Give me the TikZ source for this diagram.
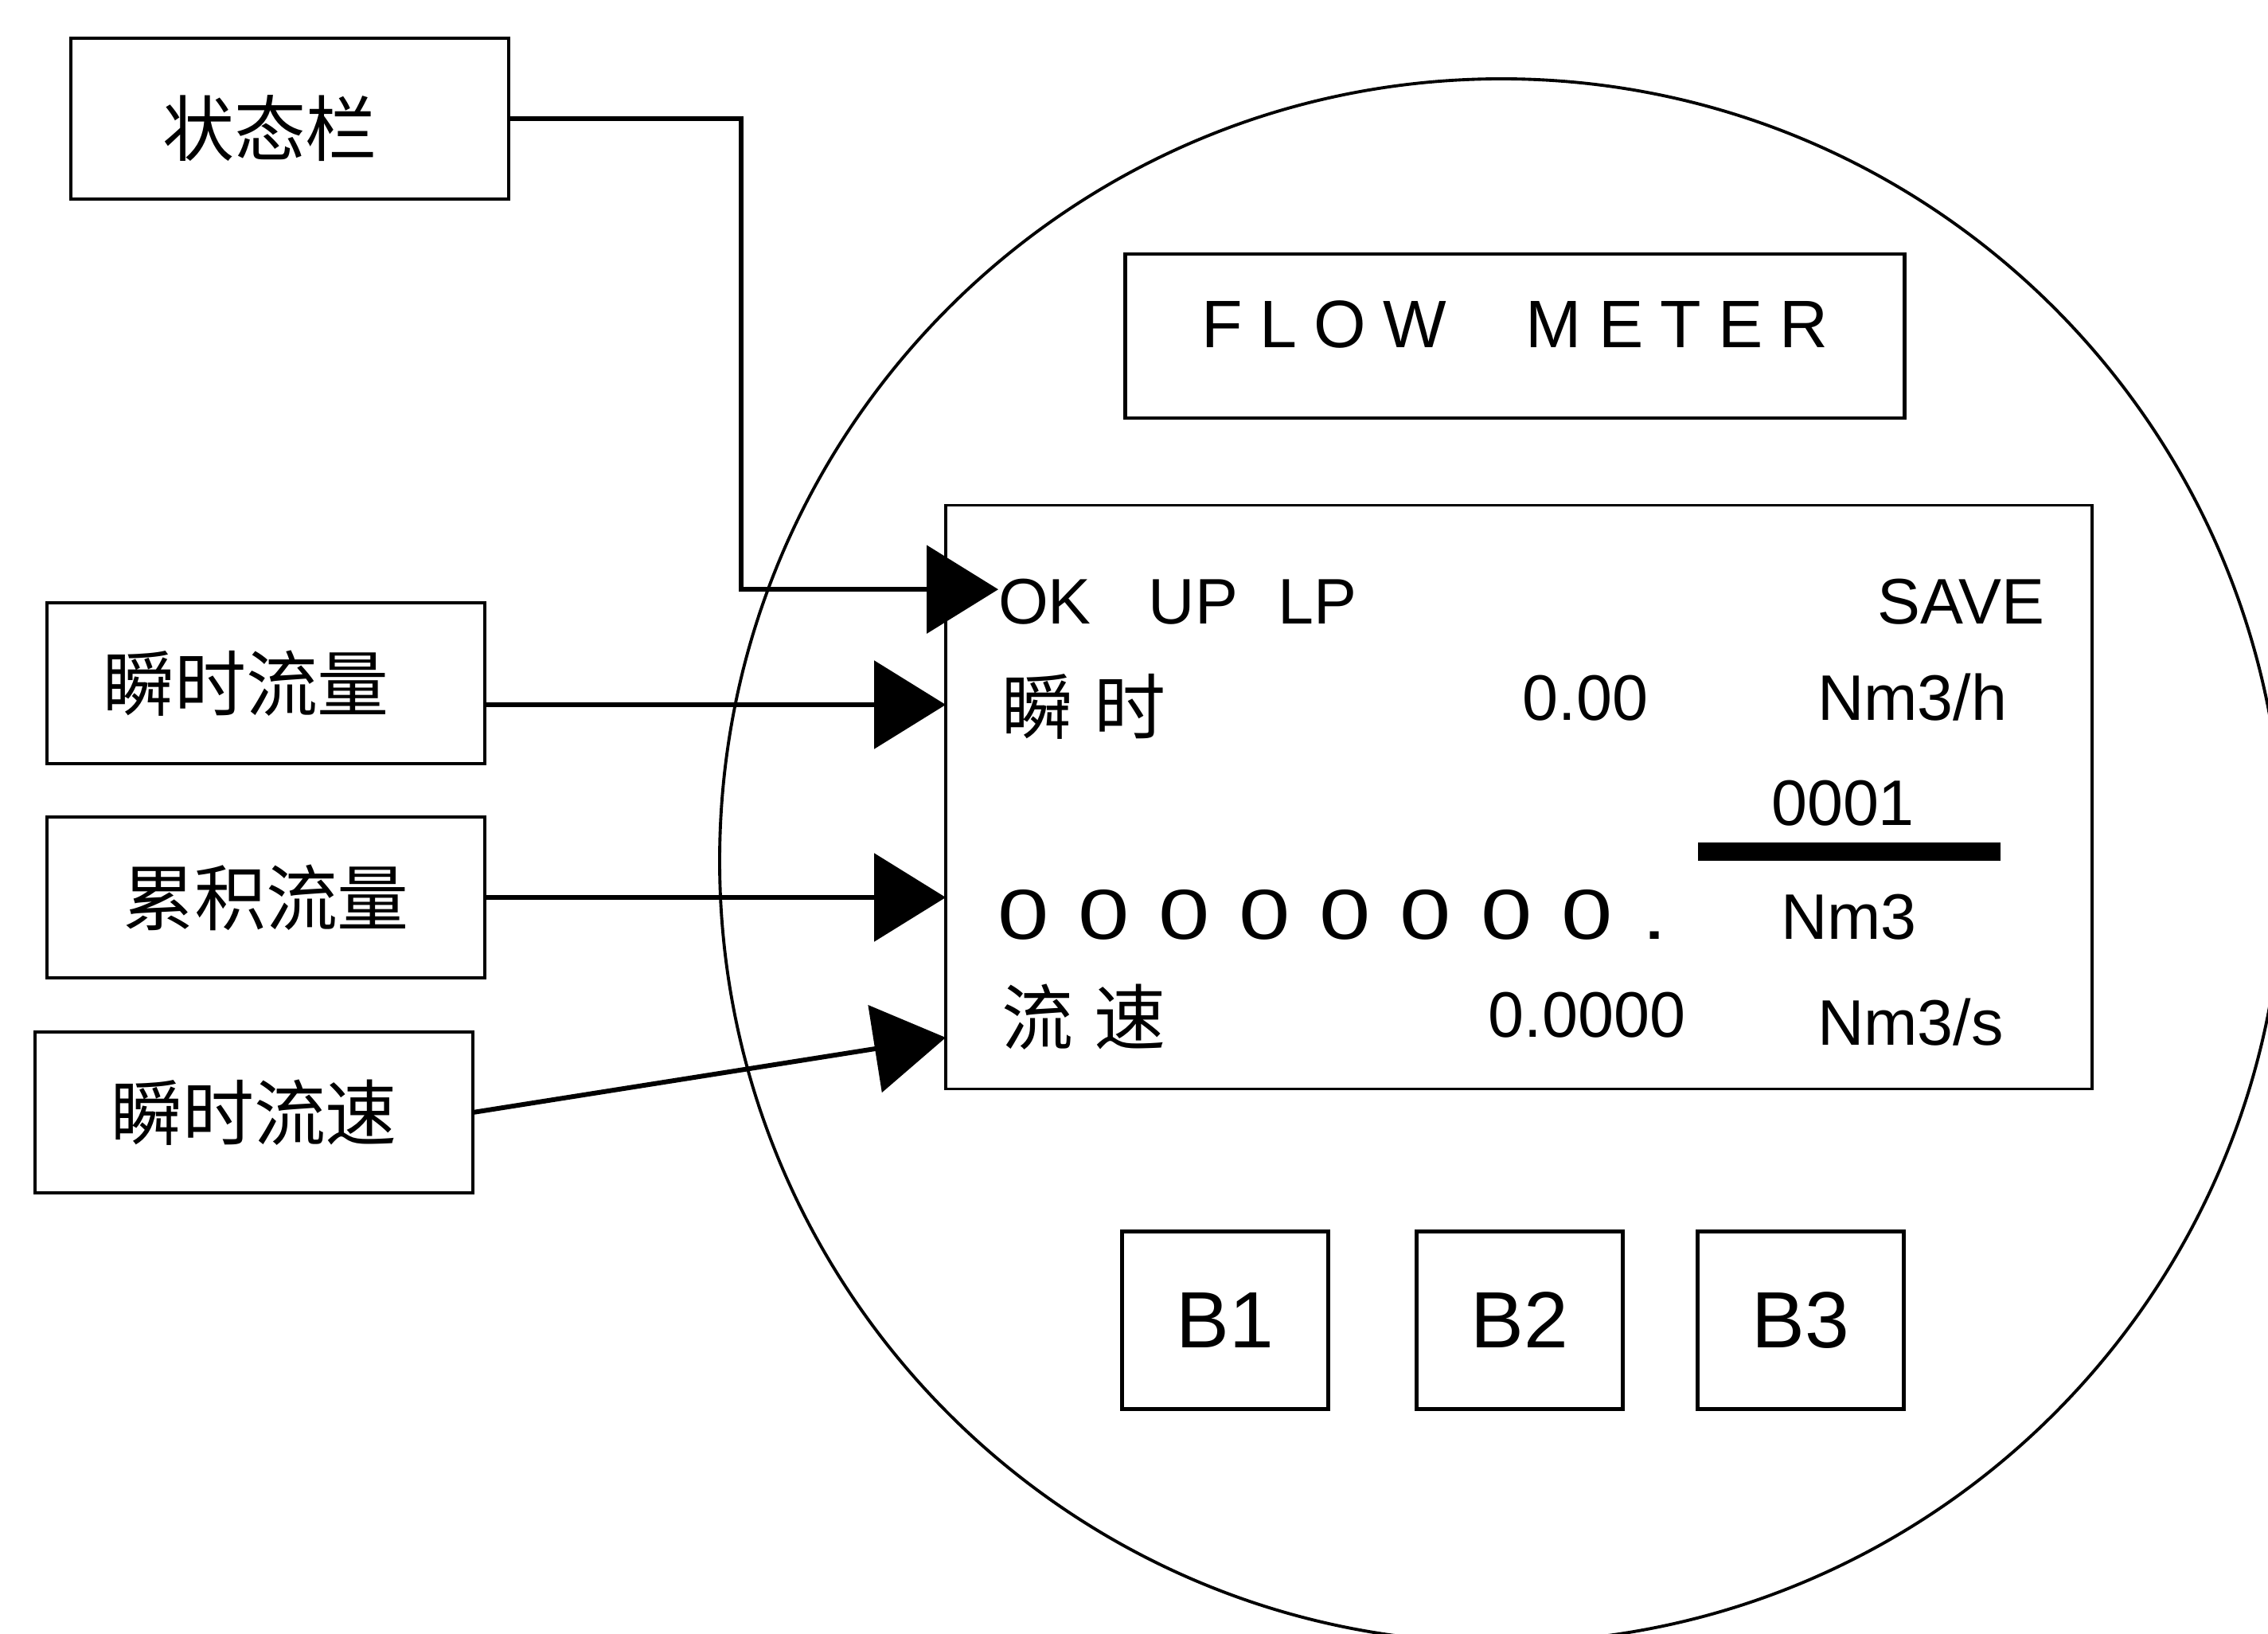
\documentclass[tikz,border=0pt]{standalone}
\usepackage{fontspec}
\setmainfont{Liberation Sans}
\newfontfamily\cjk{Noto Sans CJK SC}
\newfontfamily\widefont[FakeStretch=1.3,WordSpace=1.15]{Liberation Sans}
\usetikzlibrary{arrows.meta}
\begin{document}
\begin{tikzpicture}[inner sep=0pt,outer sep=0pt,line width=1.4pt,
labelblock/.style={draw,rectangle,minimum width=5.5cm,minimum height=2.02cm,font=\cjk\fontsize{25.6}{30}\selectfont},
keyblock/.style={draw,rectangle,minimum width=2.59cm,minimum height=2.23cm,font=\fontsize{28.5}{34}\selectfont},
lcdtext/.style={font=\fontsize{23}{27}\selectfont},
lcdcjk/.style={font=\cjk\fontsize{25.6}{30}\selectfont},
pointer/.style={-{Triangle[length=0.9cm,width=1.1cm]},line width=1.7pt}]
\useasboundingbox (0,0) rectangle (28.49,20.51);
\draw[line width=1.1pt] (18.86,9.70) circle (9.82);
\draw (19.03,16.29) node[draw,rectangle,minimum width=9.79cm,minimum height=2.06cm,font=\fontsize{24}{29}\selectfont] (title) {\raisebox{0.15cm}[\height][\depth]{\addfontfeature{LetterSpace=25}FLOW\hspace{1.0cm}METER}};
\draw (19.08,10.50) node[draw,rectangle,line width=1.1pt,minimum width=14.4cm,minimum height=7.33cm] (lcd) {};
% display rows
\draw (12.54,12.68) node[lcdtext,anchor=base west] (flags) {OK\hspace{0.72cm}UP\hspace{0.5cm}LP};
\draw (25.68,12.68) node[lcdtext,anchor=base east] (save) {SAVE};
\draw (12.58,11.64) node[lcdcjk,anchor=west] (instlabel) {瞬\hspace{0.27cm}时};
\draw (20.70,11.46) node[lcdtext,anchor=base east] (instval) {0.00};
\draw (22.83,11.46) node[lcdtext,anchor=base west] (instunit) {Nm3/h};
\draw (23.15,10.15) node[lcdtext,anchor=base] (factor) {0001};
\fill (21.33,9.70) rectangle (25.13,9.93);
\draw (12.53,8.72) node[anchor=base west,font=\widefont\fontsize{25.3}{30}\selectfont] (count) {0 0 0 0 0 0 0 0 .};
\draw (22.37,8.72) node[lcdtext,anchor=base west] (countunit) {Nm3};
\draw (12.58,7.74) node[lcdcjk,anchor=west] (speedlabel) {流\hspace{0.27cm}速};
\draw (21.17,7.49) node[lcdtext,anchor=base east] (speedval) {0.0000};
\draw (22.83,7.39) node[lcdtext,anchor=base west] (speedunit) {Nm3/s};
% keys
\draw (15.39,3.93) node[keyblock] (b1) {B1};
\draw (19.09,3.93) node[keyblock] (b2) {B2};
\draw (22.62,3.93) node[keyblock] (b3) {B3};
% labels
\draw (3.64,19.02) node[labelblock] (status) {\raisebox{-0.12cm}[\height][\depth]{状态栏}\kern0.5cm};
\draw (3.34,11.93) node[labelblock] (inst) {瞬时流量\kern0.5cm};
\draw (3.34,9.24) node[labelblock] (total) {累积流量};
\draw (3.19,6.54) node[labelblock] (speed) {瞬时流速};
\coordinate (speedtip) at (11.88,7.48);
\draw[pointer] (status.east) -- ++(2.92,0) |- ([yshift=0.15cm]flags.west);
\draw[pointer] ([yshift=-0.27cm]inst.east) -- ([yshift=-0.27cm]inst.east -| lcd.west);
\draw[pointer] (total.east) -- (total.east -| lcd.west);
\draw[pointer] (speed.east) -- (speedtip);
\end{tikzpicture}
\end{document}
